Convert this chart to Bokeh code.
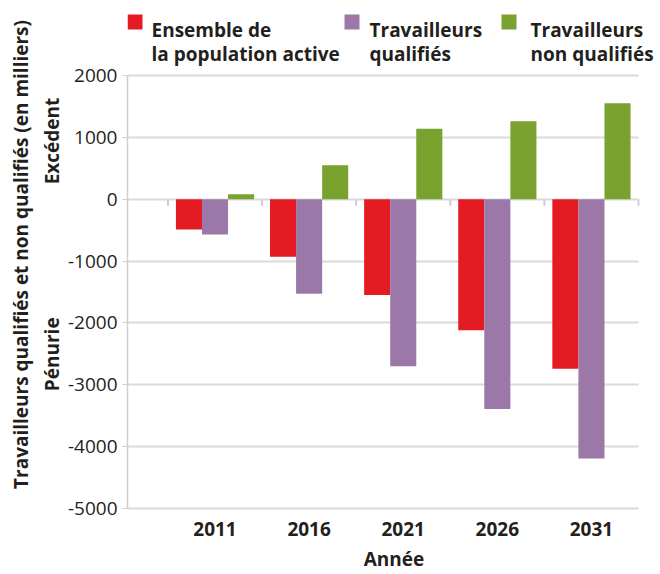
import math
from bokeh.plotting import figure
from bokeh.models import Range1d, FixedTicker, LinearAxis, Label, BoxAnnotation
from bokeh.embed import file_html
from bokeh.resources import INLINE

# ---- data ----
years = ["2011", "2016", "2021", "2026", "2031"]
ensemble = [-490, -930, -1550, -2120, -2740]
qualifies = [-570, -1530, -2700, -3390, -4190]
non_qualifies = [80, 550, 1140, 1260, 1550]
series_lines = [["Ensemble de", "la population active"],
                ["Travailleurs", "qualifiés"],
                ["Travailleurs", "non qualifiés"]]
y_ticks = [2000, 1000, 0, -1000, -2000, -3000, -4000, -5000]
y_title = "Travailleurs qualifiés et non qualifiés (en milliers)"
side_titles = {1640: "Excédent", -1910: "Pénurie"}
x_title = "Année"

colors = ["#E51B24", "#9B78A8", "#7AA22F"]
FONT = "Open Sans"
TXT = "#231F20"
GRID = "#DADADA"
AXC = "#CFCFCF"
FS = "19px"

# plotting area layout (pixels)
FL, FR, FT, FB = 127, 638, 75, 508   # visible chart box
W, H = 660, 574

y_lo, y_hi = min(y_ticks), max(y_ticks)
y_top = y_hi + (y_hi - y_lo) * FT / (FB - FT)          # frame reaches canvas top (legend inside)
x_lo, x_hi = -0.93, len(years) - 0.5
x_end = x_hi + (x_hi - x_lo) * (W - FR) / (FR - FL)     # frame reaches canvas right

p = figure(width=W, height=H, output_backend="svg", toolbar_location=None,
           x_range=Range1d(x_lo, x_end), y_range=Range1d(y_lo, y_top),
           min_border_left=FL, min_border_right=0, min_border_top=0, min_border_bottom=H - FB)
p.outline_line_color = None

# grid
p.xgrid.grid_line_color = None
p.ygrid.grid_line_color = GRID
p.ygrid.grid_line_width = 2
p.ygrid.ticker = FixedTicker(ticks=y_ticks)
p.ygrid.cross_bounds = (x_lo, x_hi)

# numeric y axis
ya = p.yaxis[0]
ya.ticker = FixedTicker(ticks=y_ticks)
ya.bounds = (y_lo, y_hi)
ya.major_label_overrides = {t: str(t) for t in y_ticks}
ya.axis_line_color = AXC
ya.axis_line_width = 1.5
ya.major_tick_line_color = AXC
ya.major_tick_out = 5
ya.major_tick_in = 0
ya.minor_tick_line_color = None
ya.major_label_text_font = FONT
ya.major_label_text_font_size = FS
ya.major_label_text_color = TXT
ya.major_label_standoff = 5

# outer axis: "Excédent" / "Pénurie" + main title
ta = LinearAxis(ticker=FixedTicker(ticks=list(side_titles.keys())),
                major_label_overrides=side_titles,
                axis_line_color=None, major_tick_line_color=None,
                minor_tick_line_color=None, major_tick_out=0, major_tick_in=0,
                major_label_orientation=math.pi / 2, major_label_standoff=12,
                major_label_text_font=FONT, major_label_text_font_style="bold",
                major_label_text_font_size=FS, major_label_text_color=TXT,
                axis_label=y_title, axis_label_standoff=-10,
                axis_label_text_font=FONT, axis_label_text_font_style="bold",
                axis_label_text_font_size=FS, axis_label_text_color=TXT)
p.add_layout(ta, "left")

# x axis
idx = list(range(len(years)))
xa = p.xaxis[0]
xa.ticker = FixedTicker(ticks=idx)
xa.bounds = (x_lo, x_hi)
xa.major_label_overrides = {i: y for i, y in zip(idx, years)}
xa.axis_line_color = GRID
xa.axis_line_width = 2
xa.major_tick_line_color = None
xa.minor_tick_line_color = None
xa.major_label_text_font = FONT
xa.major_label_text_font_style = "bold"
xa.major_label_text_font_size = FS
xa.major_label_text_color = TXT
xa.major_label_standoff = 7
xa.axis_label = x_title
xa.axis_label_text_font = FONT
xa.axis_label_text_font_style = "bold"
xa.axis_label_text_font_size = FS
xa.axis_label_text_color = TXT
xa.axis_label_standoff = 7

# bars
bw = 0.277
for k, vals in enumerate([ensemble, qualifies, non_qualifies]):
    xs = [i + (k - 1) * bw for i in idx]
    p.vbar(x=xs, top=vals, bottom=0, width=bw, color=colors[k], line_color=None)

# small ticks on zero line at group boundaries
bx = [i - 0.5 for i in range(len(years) + 1)]
p.segment(x0=bx, y0=[0] * len(bx), x1=bx, y1=[-110] * len(bx), line_color=AXC, line_width=2)

# legend (inside the frame, frame-relative screen units)
sq_left = [0, 217, 374]
txt_left = [24, 242, 403]
SQ = 15
fh = FB  # frame height in px (frame starts at canvas top)
for k in range(3):
    p.add_layout(BoxAnnotation(left=sq_left[k], right=sq_left[k] + SQ, top=fh - 14, bottom=fh - 14 - SQ,
                               left_units="screen", right_units="screen",
                               top_units="screen", bottom_units="screen",
                               fill_color=colors[k], fill_alpha=1, line_color=None))
    for j, base in enumerate([29, 53]):
        p.add_layout(Label(x=txt_left[k], y=fh - base, x_units="screen", y_units="screen",
                           text=series_lines[k][j], text_align="left", text_baseline="alphabetic",
                           text_font=FONT, text_font_style="bold", text_font_size=FS,
                           text_color=TXT))

open("out.html", "w").write(file_html(p, INLINE))
